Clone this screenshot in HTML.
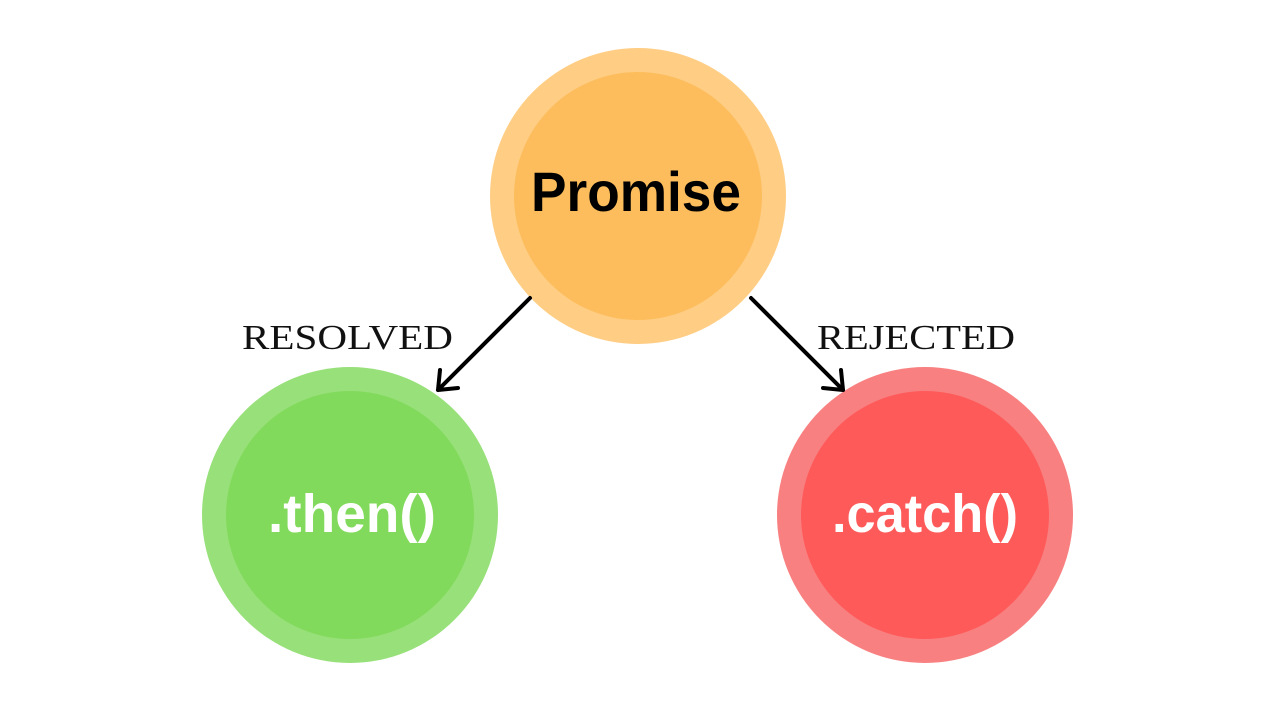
<!DOCTYPE html>
<html><head><style>html,body{margin:0;padding:0;background:#fff}</style></head>
<body>
<svg width="1280" height="720" viewBox="0 0 1280 720" xmlns="http://www.w3.org/2000/svg">
<circle cx="638" cy="196" r="148" fill="#FFCD84"/>
<circle cx="638" cy="196" r="124" fill="#FDBD5C"/>
<circle cx="350" cy="515" r="148" fill="#98E07A"/>
<circle cx="350" cy="515" r="124" fill="#82DA5C"/>
<circle cx="925" cy="515" r="148" fill="#F88080"/>
<circle cx="925" cy="515" r="124" fill="#FF5A5A"/>
<text x="636" y="211" text-anchor="middle" font-family="Liberation Sans, sans-serif" font-weight="bold" font-size="56" textLength="210" lengthAdjust="spacingAndGlyphs" fill="#000">Promise</text>
<text x="352" y="532" text-anchor="middle" font-family="Liberation Sans, sans-serif" font-weight="bold" font-size="54" textLength="168" lengthAdjust="spacingAndGlyphs" fill="#fff">.then()</text>
<text x="925" y="532" text-anchor="middle" font-family="Liberation Sans, sans-serif" font-weight="bold" font-size="54" textLength="186" lengthAdjust="spacingAndGlyphs" fill="#fff">.catch()</text>
<text x="242" y="349" font-family="Liberation Serif, serif" font-size="35" textLength="211" lengthAdjust="spacingAndGlyphs" fill="#111">RESOLVED</text>
<text x="817" y="349" font-family="Liberation Serif, serif" font-size="35" textLength="198" lengthAdjust="spacingAndGlyphs" fill="#111">REJECTED</text>
<g stroke="#000" stroke-width="4" fill="none" stroke-linecap="round" stroke-linejoin="round">
<line x1="530" y1="298" x2="438" y2="390"/>
<polyline points="440,370 438,390 458,388"/>
<line x1="751" y1="298" x2="843" y2="390"/>
<polyline points="823,388 843,390 841,370"/>
</g>
</svg>
</body></html>
